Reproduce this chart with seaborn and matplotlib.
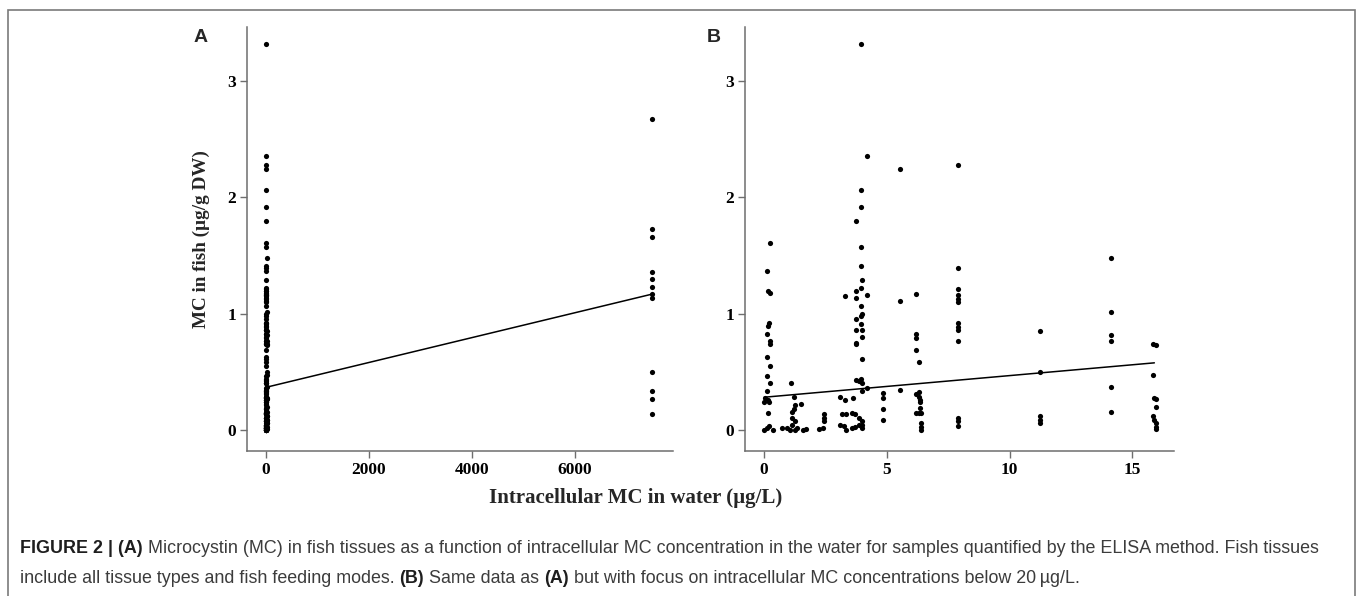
import numpy as np
import pandas as pd
import matplotlib
matplotlib.use("Agg")
import matplotlib.pyplot as plt
from matplotlib.patches import Rectangle
import seaborn as sns

# intracellular MC in water (ug/L) and MC in fish (ug/g DW), samples below 20 ug/L
water_low = [3.93, 4.19, 5.53, 7.89, 3.93, 3.93, 3.76, 0.23, 3.93, 0.12, 3.93, 7.89, 3.97,
             0.15, 0.24, 0.20, 0.15, 0.12, 0.23, 0.23, 0.12, 0.23, 0.12, 0.23, 0.12, 0.04,
             0.15, 0.01, 0.18, 0.15, 0.20, 0.12, 0.01, 0.38, 0.72,
             1.09, 1.20, 1.24, 1.20, 1.13, 1.52, 1.13, 1.24, 1.13, 0.93, 1.06, 1.24, 1.33,
             1.60, 1.71,
             2.42, 2.42, 2.42, 2.22, 2.39,
             3.31, 3.10, 3.31, 3.17, 3.35, 3.10, 3.24, 3.35, 3.62,
             3.76, 3.93, 4.19, 3.76, 3.93, 3.97, 3.93, 3.76, 3.93, 3.76, 3.97, 3.97, 3.76,
             3.76, 3.97, 3.76, 3.93, 3.85, 3.97, 4.19, 3.97, 3.58, 3.71, 3.85, 3.97, 3.58,
             3.71, 3.85, 3.97, 3.97,
             4.84, 4.84, 4.84, 4.84,
             5.52, 5.52,
             6.20, 6.20, 6.20, 6.20, 6.30, 6.30, 6.20, 6.30, 6.37, 6.37, 6.37, 6.20, 6.30,
             6.39, 6.39, 6.39, 6.39,
             7.89, 7.89, 7.89, 7.89, 7.89, 7.89, 7.89, 7.89, 7.89, 7.89, 7.89,
             11.24, 11.24, 11.24, 11.24, 11.24,
             14.15, 14.15, 14.15, 14.15, 14.15, 14.15,
             15.85, 15.95, 15.85, 15.90, 15.95, 15.95, 15.85, 15.90, 15.95, 15.95, 15.95]
fish_low = [3.31, 2.35, 2.24, 2.28, 2.06, 1.92, 1.80, 1.61, 1.57, 1.37, 1.41, 1.39, 1.29,
            1.20, 1.18, 0.92, 0.90, 0.83, 0.77, 0.74, 0.63, 0.55, 0.47, 0.41, 0.34, 0.28,
            0.26, 0.24, 0.24, 0.15, 0.04, 0.02, 0.00, 0.00, 0.02,
            0.41, 0.29, 0.22, 0.18, 0.16, 0.23, 0.11, 0.08, 0.05, 0.02, 0.00, 0.00, 0.02,
            0.00, 0.01,
            0.14, 0.11, 0.08, 0.01, 0.02,
            1.15, 0.29, 0.26, 0.14, 0.14, 0.05, 0.04, 0.00, 0.28,
            1.20, 1.22, 1.16, 1.14, 1.07, 1.00, 0.98, 0.96, 0.91, 0.86, 0.86, 0.80, 0.75,
            0.74, 0.61, 0.43, 0.44, 0.42, 0.41, 0.36, 0.34, 0.15, 0.14, 0.11, 0.08, 0.02,
            0.03, 0.05, 0.05, 0.02,
            0.32, 0.28, 0.18, 0.09,
            1.11, 0.35,
            1.17, 0.83, 0.79, 0.69, 0.59, 0.33, 0.31, 0.29, 0.26, 0.24, 0.19, 0.15, 0.15,
            0.15, 0.06, 0.03, 0.00,
            1.21, 1.16, 1.13, 1.10, 0.92, 0.89, 0.86, 0.77, 0.11, 0.08, 0.04,
            0.85, 0.50, 0.12, 0.09, 0.06,
            1.48, 1.02, 0.82, 0.77, 0.37, 0.16,
            0.74, 0.73, 0.48, 0.28, 0.27, 0.20, 0.12, 0.09, 0.06, 0.03, 0.01]

# samples with very high intracellular MC
water_high = [7500] * 12
fish_high = [2.67, 1.73, 1.66, 1.36, 1.30, 1.23, 1.17, 1.14, 0.50, 0.34, 0.27, 0.14]

# linear fits as drawn in the figure
fit_a_x = [0, 7500]
fit_a_y = [0.37, 1.17]
fit_b_x = [0, 15.9]
fit_b_y = [0.285, 0.58]

xticks_a = [0, 2000, 4000, 6000]
xticks_b = [0, 5, 10, 15]
yticks = [0, 1, 2, 3]

df_low = pd.DataFrame({"water": water_low, "fish": fish_low})
df_all = pd.concat([df_low, pd.DataFrame({"water": water_high, "fish": fish_high})],
                   ignore_index=True)

sns.set_theme(style="ticks")
plt.rcParams["font.family"] = ["Liberation Serif", "DejaVu Serif"]

W, H = 1357, 596
fig = plt.figure(figsize=(W / 100, H / 100), dpi=100)

# outer frame of the figure panel
fig.add_artist(Rectangle((8 / W, -0.01), (1355 - 8) / W, 1 - 10 / H + 0.01,
                         transform=fig.transFigure, fill=False,
                         edgecolor="#7a7a7a", linewidth=1.2))

spine_col = "#6e6e6e"
ylim = (-0.176, 3.46)


def style_axis(ax, xticks, xlim):
    ax.set_xlim(*xlim)
    ax.set_ylim(*ylim)
    ax.set_xticks(xticks)
    ax.set_yticks(yticks)
    sns.despine(ax=ax)
    for s in ["left", "bottom"]:
        ax.spines[s].set_color(spine_col)
        ax.spines[s].set_linewidth(1.1)
    ax.tick_params(colors=spine_col, length=5, width=1, pad=3, labelcolor="black")
    for lab in ax.get_xticklabels() + ax.get_yticklabels():
        lab.set_fontweight("bold")
        lab.set_fontsize(12.5)
    ax.set_xlabel("")
    ax.set_ylabel("")


ax_a = fig.add_axes([247 / W, 1 - 451 / H, 426 / W, 424 / H])
sns.scatterplot(data=df_all, x="water", y="fish", ax=ax_a, color="black",
                s=14, linewidth=0)
sns.lineplot(x=fit_a_x, y=fit_a_y, ax=ax_a, color="black", linewidth=1.1)
style_axis(ax_a, xticks_a, (-369, 7900))
ax_a.set_ylabel("MC in fish (µg/g DW)", fontsize=13.8, fontweight="bold")
ax_a.yaxis.set_label_coords(-0.086, 0.5)

ax_b = fig.add_axes([745 / W, 1 - 451 / H, 429 / W, 424 / H])
sns.scatterplot(data=df_low, x="water", y="fish", ax=ax_b, color="black",
                s=14, linewidth=0)
sns.lineplot(x=fit_b_x, y=fit_b_y, ax=ax_b, color="black", linewidth=1.1)
style_axis(ax_b, xticks_b, (-0.78, 16.7))

fig.text(201 / W, 1 - 38 / H, "A", family="Liberation Sans", fontweight="bold",
         fontsize=14, ha="center", va="center")
fig.text(714 / W, 1 - 38 / H, "B", family="Liberation Sans", fontweight="bold",
         fontsize=14, ha="center", va="center")

fig.text(636 / W, 1 - 498 / H, "Intracellular MC in water (µg/L)", fontsize=15,
         fontweight="bold", ha="center", va="center")

# caption, pieces placed one after another
cap_size = 12.9
bold_col = "#1e1e1e"
reg_col = "#3c3c3c"
line1 = [("FIGURE 2 | (A)", True),
         (" Microcystin (MC) in fish tissues as a function of intracellular MC concentration "
          "in the water for samples quantified by the ELISA method. Fish tissues", False)]
line2 = [("include all tissue types and fish feeding modes. ", False), ("(B)", True),
         (" Same data as ", False), ("(A)", True),
         (" but with focus on intracellular MC concentrations below 20\u2009µg/L.", False)]

fig.canvas.draw()
renderer = fig.canvas.get_renderer()
for pieces, base_y in [(line1, 553), (line2, 583)]:
    x = 20
    for txt, bold in pieces:
        t = fig.text(x / W, 1 - base_y / H, txt, family=["Liberation Sans", "DejaVu Sans"],
                     fontsize=cap_size, fontweight="bold" if bold else "normal",
                     color=bold_col if bold else reg_col, ha="left", va="baseline")
        x += t.get_window_extent(renderer).width

fig.savefig("out.png", dpi=100)
